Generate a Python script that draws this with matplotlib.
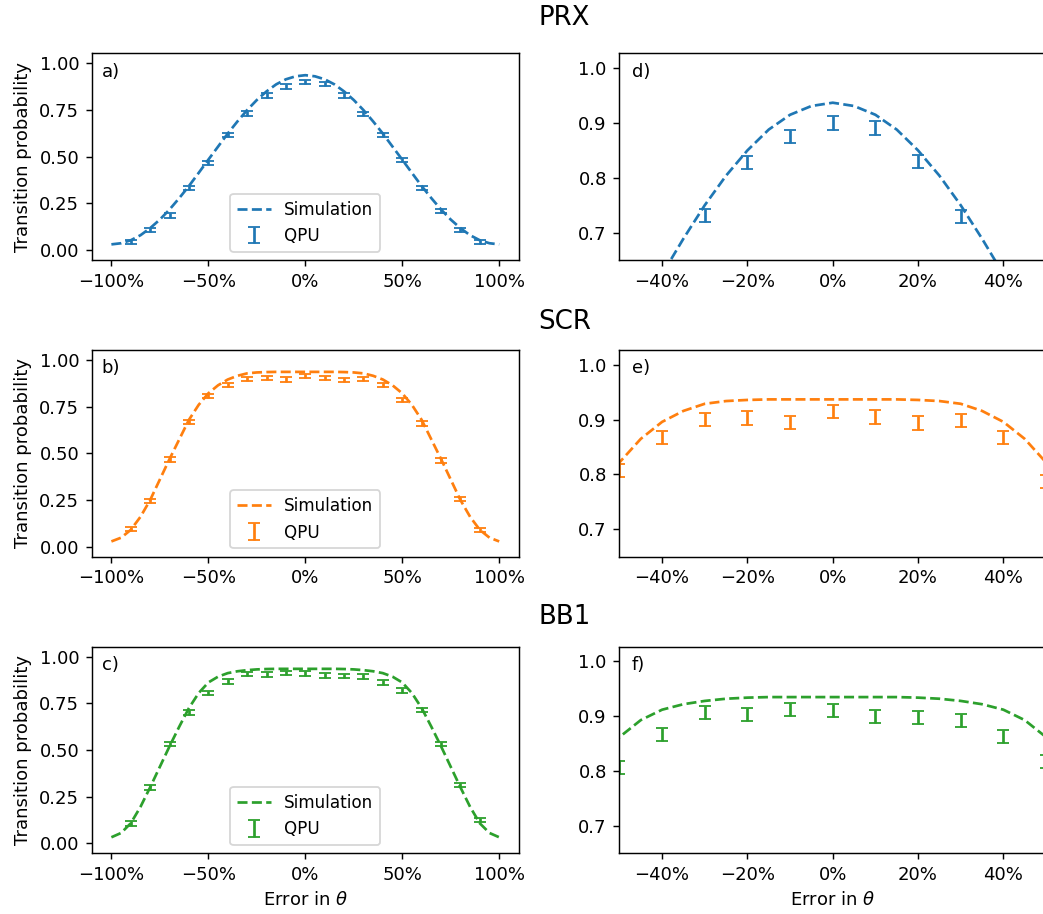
import numpy as np
import matplotlib
matplotlib.use("Agg")
import matplotlib.pyplot as plt
from matplotlib.ticker import PercentFormatter

# error in theta (fraction)
sim_x = np.linspace(-1, 1, 41)
qpu_x = np.linspace(-0.9, 0.9, 19)

# simulated transition probability
prx_sim = [0.030, 0.036, 0.052, 0.079, 0.117, 0.163, 0.217, 0.278, 0.343, 0.413,
           0.484, 0.554, 0.624, 0.689, 0.750, 0.804, 0.850, 0.888, 0.915, 0.931,
           0.937,
           0.931, 0.915, 0.888, 0.850, 0.804, 0.750, 0.689, 0.624, 0.554, 0.484,
           0.413, 0.343, 0.278, 0.217, 0.163, 0.117, 0.079, 0.052, 0.036, 0.030]
scr_sim = [0.028, 0.048, 0.090, 0.160, 0.250, 0.360, 0.470, 0.575, 0.680, 0.760,
           0.822, 0.865, 0.896, 0.916, 0.929, 0.934, 0.936, 0.937, 0.937, 0.937,
           0.937,
           0.937, 0.937, 0.937, 0.936, 0.934, 0.929, 0.916, 0.896, 0.865, 0.822,
           0.760, 0.680, 0.575, 0.470, 0.360, 0.250, 0.160, 0.090, 0.048, 0.028]
bb1_sim = [0.032, 0.055, 0.107, 0.195, 0.300, 0.410, 0.520, 0.625, 0.725, 0.805,
           0.862, 0.893, 0.912, 0.922, 0.928, 0.932, 0.934, 0.935, 0.935, 0.935,
           0.935,
           0.935, 0.935, 0.935, 0.934, 0.932, 0.928, 0.922, 0.912, 0.893, 0.862,
           0.805, 0.725, 0.625, 0.520, 0.410, 0.300, 0.195, 0.107, 0.055, 0.032]

# measured on the QPU
prx_qpu = [0.042, 0.107, 0.184, 0.333, 0.467, 0.615, 0.731, 0.828, 0.876, 0.900,
           0.891, 0.829, 0.730, 0.617, 0.481, 0.333, 0.208, 0.107, 0.042]
scr_qpu = [0.096, 0.245, 0.466, 0.667, 0.808, 0.867, 0.900, 0.903, 0.895, 0.915,
           0.905, 0.894, 0.899, 0.867, 0.787, 0.661, 0.463, 0.255, 0.090]
bb1_qpu = [0.107, 0.298, 0.532, 0.700, 0.806, 0.866, 0.907, 0.904, 0.913, 0.910,
           0.900, 0.898, 0.893, 0.863, 0.818, 0.714, 0.532, 0.312, 0.125]
qpu_err = 0.012

names = ["PRX", "SCR", "BB1"]
colors = ["tab:blue", "tab:orange", "tab:green"]
sims = [prx_sim, scr_sim, bb1_sim]
qpus = [prx_qpu, scr_qpu, bb1_qpu]
left_labels = ["a)", "b)", "c)"]
right_labels = ["d)", "e)", "f)"]

DPI = 130
fig = plt.figure(figsize=(1043 / DPI, 914 / DPI), dpi=DPI)

bottoms = [0.7155, 0.3909, 0.0664]
title_y = [0.980, 0.648, 0.325]
h = 0.2261
w = 0.4090

for i in range(3):
    c = colors[i]
    axl = fig.add_axes([0.0882, bottoms[i], w, h])
    axr = fig.add_axes([0.5939, bottoms[i], w, h])

    for ax in (axl, axr):
        ax.plot(sim_x, sims[i], "--", color=c, label="Simulation")
        ax.errorbar(qpu_x, qpus[i], yerr=qpu_err, fmt="none", capsize=3.1,
                    color=c, label="QPU")
        ax.xaxis.set_major_formatter(PercentFormatter(xmax=1, decimals=0))

    axl.set_xlim(-1.1, 1.1)
    axl.set_ylim(-0.054, 1.054)
    axl.set_xticks([-1, -0.5, 0, 0.5, 1])
    axl.set_yticks([0, 0.25, 0.5, 0.75, 1.0])
    axl.set_ylabel("Transition probability")
    axl.legend(loc="lower center", fontsize=9.3)
    axl.text(0.023, 0.955, left_labels[i], transform=axl.transAxes, va="top")

    axr.set_xlim(-0.5, 0.5)
    axr.set_ylim(0.65, 1.027)
    axr.set_xticks([-0.4, -0.2, 0, 0.2, 0.4])
    axr.set_yticks([0.7, 0.8, 0.9, 1.0])
    axr.text(0.029, 0.955, right_labels[i], transform=axr.transAxes, va="top")

    if i == 2:
        axl.set_xlabel(r"Error in $\theta$")
        axr.set_xlabel(r"Error in $\theta$")

    fig.text(0.541, title_y[i], names[i], ha="center", va="center", fontsize=14.4)

fig.savefig("out.png", dpi=DPI)
